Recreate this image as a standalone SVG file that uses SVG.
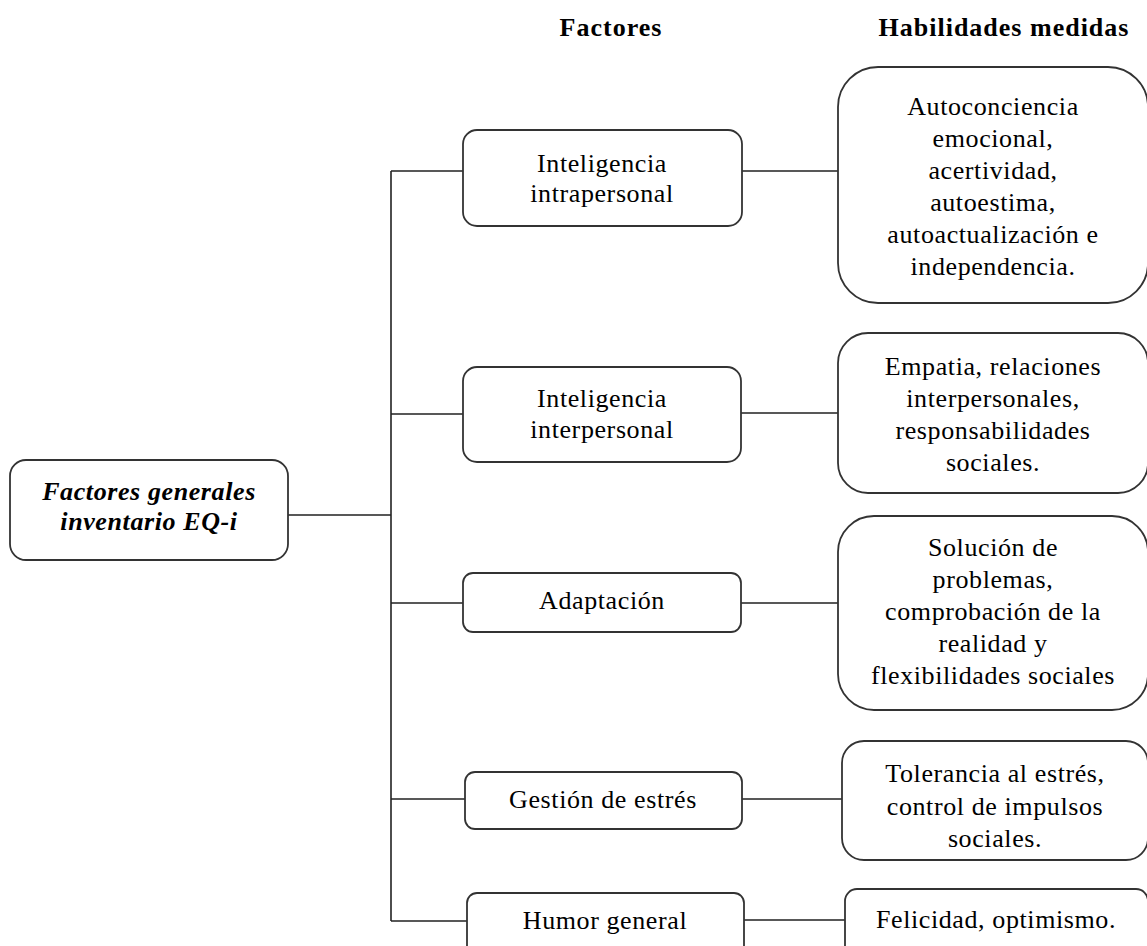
<svg xmlns="http://www.w3.org/2000/svg" width="1147" height="946" viewBox="0 0 1147 946">
<style>
.box{fill:#fff;stroke:#333;stroke-width:1.8}
.t{font-family:"Liberation Serif","Times New Roman",serif;font-size:26px;letter-spacing:0.6px;fill:#000;text-anchor:middle}
.h{font-family:"Liberation Serif","Times New Roman",serif;font-size:26px;font-weight:bold;letter-spacing:1px;fill:#000;text-anchor:middle}
.bi{font-weight:bold;font-style:italic}
.ln{stroke:#222;stroke-width:1.6;fill:none}
</style>
<rect width="1147" height="946" fill="#fff"/>
<g id="headers">
<text class="h" x="611" y="36">Factores</text>
<text class="h" x="1004" y="36">Habilidades medidas</text>
</g>
<g id="connectors">
<path class="ln" d="M288 515H391M391 171V921M391 171H463M391 414H463M391 603H463M391 799H465M391 921H467M742 171H838M741 413H838M741 603H838M742 799H842M744 920H845"/>
</g>
<g id="main">
<rect class="box" x="10" y="460" width="278" height="100" rx="16"/>
<text class="t bi" x="149" y="500">Factores generales</text>
<text class="t bi" x="149" y="530">inventario EQ-i</text>
</g>
<g id="f1">
<rect class="box" x="463" y="130" width="279" height="96" rx="14"/>
<text class="t" x="602" y="172">Inteligencia</text>
<text class="t" x="602" y="202">intrapersonal</text>
</g>
<g id="f2">
<rect class="box" x="463" y="367" width="278" height="95" rx="14"/>
<text class="t" x="602" y="407">Inteligencia</text>
<text class="t" x="602" y="438">interpersonal</text>
</g>
<g id="f3">
<rect class="box" x="463" y="573" width="278" height="59" rx="10"/>
<text class="t" x="602" y="609">Adaptación</text>
</g>
<g id="f4">
<rect class="box" x="465" y="772" width="277" height="57" rx="10"/>
<text class="t" x="603" y="808">Gestión de estrés</text>
</g>
<g id="f5">
<rect class="box" x="467" y="893" width="277" height="70" rx="10"/>
<text class="t" x="605" y="929">Humor general</text>
</g>
<g id="h1">
<rect class="box" x="838" y="67" width="310" height="236" rx="40"/>
<text class="t" x="993" y="115">Autoconciencia</text>
<text class="t" x="993" y="147">emocional,</text>
<text class="t" x="993" y="179">acertividad,</text>
<text class="t" x="993" y="211">autoestima,</text>
<text class="t" x="993" y="243">autoactualización e</text>
<text class="t" x="993" y="275">independencia.</text>
</g>
<g id="h2">
<rect class="box" x="838" y="333" width="310" height="160" rx="30"/>
<text class="t" x="993" y="375">Empatia, relaciones</text>
<text class="t" x="993" y="407">interpersonales,</text>
<text class="t" x="993" y="439">responsabilidades</text>
<text class="t" x="993" y="471">sociales.</text>
</g>
<g id="h3">
<rect class="box" x="838" y="516" width="310" height="194" rx="36"/>
<text class="t" x="993" y="556">Solución de</text>
<text class="t" x="993" y="588">problemas,</text>
<text class="t" x="993" y="620">comprobación de la</text>
<text class="t" x="993" y="652">realidad y</text>
<text class="t" x="993" y="684">flexibilidades sociales</text>
</g>
<g id="h4">
<rect class="box" x="842" y="741" width="306" height="119" rx="22"/>
<text class="t" x="995" y="782">Tolerancia al estrés,</text>
<text class="t" x="995" y="815">control de impulsos</text>
<text class="t" x="995" y="847">sociales.</text>
</g>
<g id="h5">
<rect class="box" x="845" y="889" width="303" height="70" rx="12"/>
<text class="t" x="996" y="928">Felicidad, optimismo.</text>
</g>
</svg>
